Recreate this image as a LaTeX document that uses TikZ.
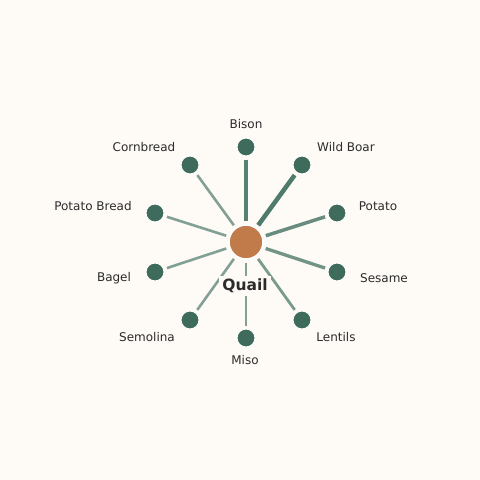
\documentclass[tikz,border=0pt]{standalone}
\usepackage{fontspec}
\setmainfont{DejaVu Sans}
\definecolor{bg}{HTML}{FEFAF6}
\definecolor{hub}{HTML}{C17A4A}
\definecolor{leaf}{HTML}{3E6B5C}
\definecolor{spk}{HTML}{4E7B6C}
\definecolor{txt}{HTML}{2B2B2B}
\begin{document}
\begin{tikzpicture}[x=1pt,y=-1pt,
  hubnode/.style={circle,fill=hub,draw=white,line width=1.5pt,minimum size=34pt,inner sep=0pt},
  leafnode/.style={circle,fill=leaf,draw=white,line width=1pt,minimum size=18pt,inner sep=0pt},
  lbl/.style={font=\fontsize{12}{14}\selectfont,text=txt,inner sep=1pt},
  spoke/.style={draw=spk,shorten <=3pt,shorten >=3pt}]
\fill[bg] (0,0) rectangle (480,480);
\useasboundingbox (0,0) rectangle (480,480);
\node[hubnode] (c) at (246,242) {};
\node[leafnode] (n1) at (246,147) {};
\node[leafnode] (n2) at (302,165) {};
\node[leafnode] (n3) at (337,213) {};
\node[leafnode] (n4) at (337,272) {};
\node[leafnode] (n5) at (302,320) {};
\node[leafnode] (n6) at (246,338) {};
\node[leafnode] (n7) at (190,320) {};
\node[leafnode] (n8) at (155,272) {};
\node[leafnode] (n9) at (155,213) {};
\node[leafnode] (n10) at (190,165) {};
\draw[spoke,line width=4.5pt,draw opacity=0.95] (c) -- (n1);
\draw[spoke,line width=4.5pt,draw opacity=1] (c) -- (n2);
\draw[spoke,line width=3.5pt,draw opacity=0.85] (c) -- (n3);
\draw[spoke,line width=3.3pt,draw opacity=0.8] (c) -- (n4);
\draw[spoke,line width=2.8pt,draw opacity=0.75] (c) -- (n5);
\draw[spoke,line width=2.6pt,draw opacity=0.7] (c) -- (n6);
\draw[spoke,line width=2.6pt,draw opacity=0.7] (c) -- (n7);
\draw[spoke,line width=2.6pt,draw opacity=0.7] (c) -- (n8);
\draw[spoke,line width=2.6pt,draw opacity=0.7] (c) -- (n9);
\draw[spoke,line width=2.6pt,draw opacity=0.7] (c) -- (n10);
\node[lbl] (l1) at (246,124) {Bison};
\node[lbl] (l2) at (346,147) {Wild Boar};
\node[lbl] (l3) at (378,206) {Potato};
\node[lbl] (l4) at (384,278) {Sesame};
\node[lbl] (l5) at (336,337) {Lentils};
\node[lbl] (l6) at (245,360) {Miso};
\node[lbl] (l7) at (147,337) {Semolina};
\node[lbl] (l8) at (114,278) {Bagel};
\node[lbl] (l9) at (93,206) {Potato Bread};
\node[lbl] (l10) at (144,147) {Cornbread};
\node[fill=bg,font=\bfseries\fontsize{15.5}{18}\selectfont,text=txt,inner xsep=3pt,inner ysep=3pt] (q) at (245,286) {Quail};
\end{tikzpicture}
\end{document}
